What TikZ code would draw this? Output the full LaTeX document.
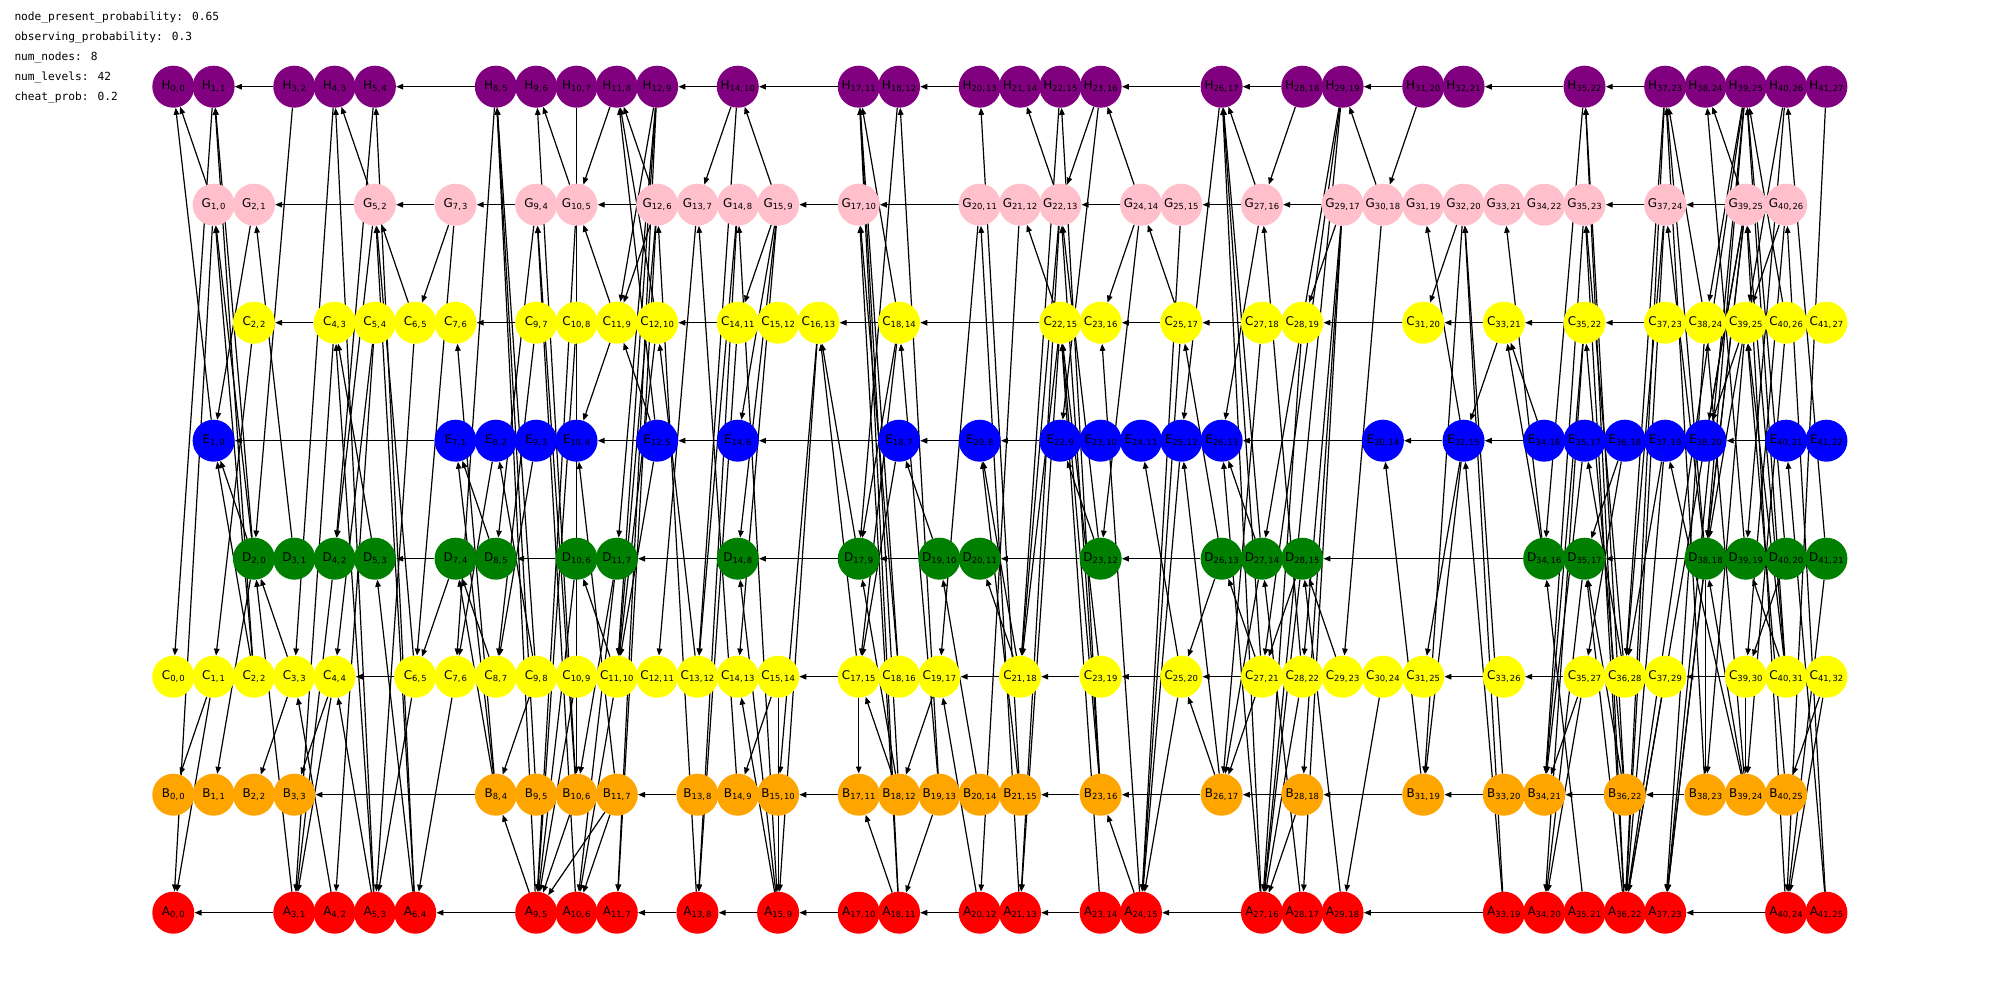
\documentclass[tikz,border=0pt]{standalone}
\usepackage{fontspec}
\setmainfont{DejaVu Sans}
\newfontfamily\monofont{DejaVu Sans Mono}
\usetikzlibrary{arrows.meta,backgrounds}
\pgfdeclarelayer{paper}
\pgfsetlayers{paper,background,main}
\definecolor{mpurple}{RGB}{128,0,128}
\definecolor{mpink}{RGB}{255,192,203}
\definecolor{myellow}{RGB}{255,255,0}
\definecolor{mblue}{RGB}{0,0,255}
\definecolor{mgreen}{RGB}{0,128,0}
\definecolor{morange}{RGB}{255,165,0}
\definecolor{mred}{RGB}{255,0,0}
\newcommand\nlab[3]{#1\raisebox{-1.9pt}{\fontsize{8.4}{9}\selectfont#2,\kern1.1pt#3}}
\newcommand\placerow[5]{%
  \foreach \l/\i in #5 {\node[nd,fill=#4] (#1\l) at ({173.3+40.32*\l},#3) {\nlab{#2}{\l}{\i}};}}
\newcommand\hrow[2]{%
  \foreach \l/\i [remember=\l as \p (initially -1)] in #2 {\ifnum\p>-1 \draw[ed] (#1\l) -- (#1\p);\fi}}
\begin{document}
\begin{tikzpicture}[x=1pt,y=-1pt,
  nd/.style={circle,minimum size=42pt,inner sep=0pt,draw=none,text=black,font=\fontsize{12}{14}\selectfont},
  ed/.style={-{Triangle[length=7pt,width=5.5pt]},line width=1.2pt,black},
  info/.style={anchor=west,inner sep=0pt,font=\monofont\fontsize{11.2}{13}\selectfont}]
\useasboundingbox (0,0) rectangle (2000,1000);
\begin{pgfonlayer}{paper}
\fill[white] (0,0) rectangle (2000,1000);
\end{pgfonlayer}
\node[info] (t1) at (14.3,17.3) {node\_present\_probability: 0.65};
\node[info] (t2) at (14.3,37.3) {observing\_probability: 0.3};
\node[info] (t3) at (14.3,57.3) {num\_nodes: 8};
\node[info] (t4) at (14.3,77.3) {num\_levels: 42};
\node[info] (t5) at (14.3,97.3) {cheat\_prob: 0.2};
\def\rowH{0/0,1/1,3/2,4/3,5/4,8/5,9/6,10/7,11/8,12/9,14/10,17/11,18/12,20/13,21/14,22/15,23/16,26/17,28/18,29/19,31/20,32/21,35/22,37/23,38/24,39/25,40/26,41/27}
\def\rowG{1/0,2/1,5/2,7/3,9/4,10/5,12/6,13/7,14/8,15/9,17/10,20/11,21/12,22/13,24/14,25/15,27/16,29/17,30/18,31/19,32/20,33/21,34/22,35/23,37/24,39/25,40/26}
\def\rowE{2/2,4/3,5/4,6/5,7/6,9/7,10/8,11/9,12/10,14/11,15/12,16/13,18/14,22/15,23/16,25/17,27/18,28/19,31/20,33/21,35/22,37/23,38/24,39/25,40/26,41/27}
\def\rowF{1/0,7/1,8/2,9/3,10/4,12/5,14/6,18/7,20/8,22/9,23/10,24/11,25/12,26/13,30/14,32/15,34/16,35/17,36/18,37/19,38/20,40/21,41/22}
\def\rowD{2/0,3/1,4/2,5/3,7/4,8/5,10/6,11/7,14/8,17/9,19/10,20/11,23/12,26/13,27/14,28/15,34/16,35/17,38/18,39/19,40/20,41/21}
\def\rowC{0/0,1/1,2/2,3/3,4/4,6/5,7/6,8/7,9/8,10/9,11/10,12/11,13/12,14/13,15/14,17/15,18/16,19/17,21/18,23/19,25/20,27/21,28/22,29/23,30/24,31/25,33/26,35/27,36/28,37/29,39/30,40/31,41/32}
\def\rowB{0/0,1/1,2/2,3/3,8/4,9/5,10/6,11/7,13/8,14/9,15/10,17/11,18/12,19/13,20/14,21/15,23/16,26/17,28/18,31/19,33/20,34/21,36/22,38/23,39/24,40/25}
\def\rowA{0/0,3/1,4/2,5/3,6/4,9/5,10/6,11/7,13/8,15/9,17/10,18/11,20/12,21/13,23/14,24/15,27/16,28/17,29/18,33/19,34/20,35/21,36/22,37/23,40/24,41/25}
\placerow{H}{H}{86.7}{mpurple}{\rowH}
\placerow{G}{G}{204.7}{mpink}{\rowG}
\placerow{E}{C}{322.7}{myellow}{\rowE}
\placerow{F}{E}{440.7}{mblue}{\rowF}
\placerow{D}{D}{558.7}{mgreen}{\rowD}
\placerow{C}{C}{676.7}{myellow}{\rowC}
\placerow{B}{B}{794.7}{morange}{\rowB}
\placerow{A}{A}{912.7}{mred}{\rowA}
\begin{pgfonlayer}{background}
\hrow{H}{\rowH}
\hrow{G}{\rowG}
\hrow{E}{\rowE}
\hrow{F}{\rowF}
\hrow{D}{\rowD}
\hrow{C}{\rowC}
\hrow{B}{\rowB}
\hrow{A}{\rowA}
\foreach \a/\b in {G1/H0,F1/H0,H1/C0,C1/B0,C1/A0,G1/A0,D2/H1,D2/G1,C2/H1,C2/G1,G2/F1,E2/C1,D2/B1,C2/F1,D2/F1,D3/G2,H3/D2,A3/D2,C3/D2,H4/C3,E4/A3,D4/A3,C4/A3,C4/B3,A5/H4,G5/H4,H5/D4,G5/D4,E5/C4,A6/H5,A6/G5,C6/G5,E6/G5,G7/E6,G7/C6,D7/C6,E6/A5,B8/E7,D8/F7,B8/F7,C8/D7,F8/C7,H8/C7,C7/A6,C6/A5,A5/C4,A5/E4,A6/D5,C3/B2,A4/C3,B8/D7,D5/E4,E5/A4,
A9/H8,B9/H8,C9/H8,G10/H9,B10/H9,H11/G10,G12/H11,E12/H11,F12/H11,H12/E11,H12/D11,H12/C11,G12/E11,G12/C11,H14/G13,G15/H14,G9/D8,E9/C8,E11/G10,E11/F10,F12/E11,E12/C11,F12/C11,G13/C12,G14/C13,A13/G12,C11/D10,B11/F10,C9/F8,F9/C8,C9/B8,A9/B8,C10/A9,B10/A9,D10/A9,G10/A9,E10/A9,B11/A9,C11/A10,D11/A10,B11/A10,H12/A11,G12/A11,D11/B10,A10/G9,B10/G9,G15/E14,G15/F14,G15/C14,G15/D14,H14/C13,E14/A13,G14/A13,A15/G14,B14/G13,C13/E12,C15/B14,A15/C14,A15/D14,H10/B10,
A18/H17,B18/H17,C18/H17,E18/H17,H18/D17,B19/H18,B21/H20,G22/H21,A18/G17,C18/G17,G20/C19,A21/G20,G21/A20,E22/G21,D17/E16,C17/E16,E16/B15,E16/A15,E18/D17,E18/C17,B19/E18,D19/F18,F18/C17,C21/F20,B21/F20,B18/D17,B20/D19,C21/D20,B18/C17,C17/B17,C19/B18,A20/C19,A18/B17,B19/A18,C15/A15,G22/A21,E22/A21,G22/C21,E22/C21,H22/C21,
B23/H22,H23/G22,H23/F22,G24/H23,D23/G22,B23/G22,G24/E23,G24/D23,E25/A24,F25/A24,C25/A24,G25/A24,E25/G24,D26/E25,H26/F25,B26/F25,C25/F24,D23/F22,C23/E22,B23/E22,A23/E22,A24/E23,D26/C25,B26/C25,A24/B23,G27/H26,A27/H26,D27/H26,C27/H26,H28/G27,G27/F26,C28/G27,G29/E28,D27/F26,A27/F26,C27/D26,D27/B26,C27/B26,A28/D27,D28/C27,C29/D28,A29/D28,G29/C28,G29/B28,B28/A27,C28/A27,D28/A27,E28/A27,G29/A28,E27/B26,
G30/H29,H29/A27,H29/C27,H29/D27,H31/G30,G30/C29,F32/G31,G32/E31,A33/G32,B33/G32,G32/B31,E33/F32,F34/E33,D34/E33,D34/G33,F32/C31,F32/B31,A33/F32,B31/F30,C30/A29,H35/D34,A36/H35,B36/H35,G35/B34,A36/G35,C36/G35,B36/E35,E35/B34,E35/A34,C36/F35,A35/D34,F36/D35,B36/D35,F36/C35,C35/B34,C35/A34,F35/B34,D35/A34,
E38/H37,D38/H37,B38/H37,H37/A36,H37/C36,G39/H38,D39/H38,H39/E38,E40/H39,C40/H39,D40/H39,H39/D38,H39/A37,G39/A37,H40/E39,H40/D39,D41/H40,C41/B40,D38/G37,A40/G39,C40/G39,G40/E39,A41/G40,B39/E38,C40/E39,B40/E39,E39/F38,G39/F38,B39/F37,F37/C36,A41/F40,E39/D38,G39/D38,B39/D38,C40/D39,G40/C39,D40/C39,E40/B39,E39/B38,G37/C36,G37/A36,C37/A36,F37/A36,D38/A37,E38/A37,H41/A40,C41/A40,D41/A40,A36/D35,G39/A36,H39/A36,D38/B38,C39/B39}
  {\draw[ed] (\a) -- (\b);}
\end{pgfonlayer}
\end{tikzpicture}
\end{document}
